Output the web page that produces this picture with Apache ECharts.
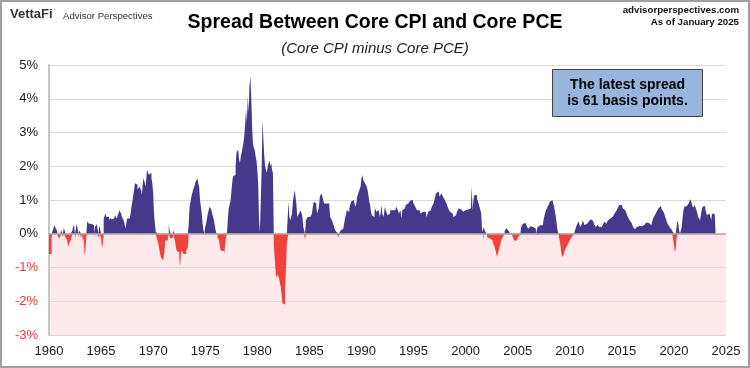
<!DOCTYPE html>
<html><head><meta charset="utf-8">
<script src="https://cdn.jsdelivr.net/npm/echarts@6/dist/echarts.min.js"></script>
<style>html,body{margin:0;padding:0;background:#fff}#c{width:750px;height:368px}</style>
</head><body><div id="c"></div><script>
// Monthly spread (Core CPI YoY minus Core PCE YoY), percentage points, starting Jan 1960
const startYear = 1960;
const spread1960s = [
  -0.6,-0.63,-0.6,-0.1,0.05,0.15,0.26,0.2,0.15,0.1,-0.08,-0.1,
  -0.14,-0.1,0.1,0.15,-0.08,0.16,0.1,-0.1,-0.12,-0.2,-0.39,-0.3,
  -0.35,-0.2,-0.24,0.1,0.26,0.2,-0.18,0.05,0.3,0.25,-0.14,0.1,
  0.12,-0.1,0.05,-0.24,-0.1,-0.63,-0.5,-0.05,0.36,0.34,0.3,0.25,
  0.3,0.28,0.3,0.25,-0.09,0.2,0.25,0.28,0.26,-0.14,0.25,0.2,
  -0.1,-0.44,-0.3,0.45,0.5,0.6,0.5,0.45,0.5,0.55,0.4,0.48,
  0.42,0.4,0.45,0.5,0.55,0.5,0.45,0.5,0.6,0.7,0.75,0.6,
  0.5,0.45,0.4,0.3,0.15,0.3,0.45,0.5,0.45,0.5,0.6,0.8,
  0.95,1.0,1.3,1.5,1.5,1.45,1.3,1.3,1.4,1.45,1.3,1.15,
  1.5,1.65,1.55,1.4,1.6,1.9,1.85,1.75,1.8,1.8,1.65,1.5
];
const spread1970s = [
  1.2,0.6,0.3,0.05,-0.1,-0.2,-0.3,-0.45,-0.6,-0.7,-0.72,-0.78,
  -0.7,-0.5,-0.2,-0.15,-0.2,-0.1,0.3,0.1,-0.15,-0.2,-0.1,0.1,
  0.05,-0.2,-0.35,-0.5,-0.45,-0.55,-0.7,-0.98,-0.6,-0.5,-0.55,-0.6,
  -0.55,-0.6,-0.5,-0.55,-0.4,0.3,0.8,0.95,1.1,1.15,1.3,1.35,
  1.45,1.55,1.6,1.64,1.5,1.4,1.0,0.8,0.6,0.3,0.1,-0.05,
  0.2,0.3,0.45,0.6,0.7,0.8,0.78,0.72,0.6,0.55,0.4,0.25,
  0.1,-0.02,-0.1,-0.15,-0.2,-0.4,-0.5,-0.45,-0.5,-0.55,-0.58,-0.3,
  -0.1,0.0,0.4,0.75,0.85,0.95,1.2,1.5,1.7,1.65,1.75,2.0,
  2.4,2.45,2.5,2.2,2.1,2.3,2.4,2.55,2.7,2.9,3.25,3.7,
  3.3,4.07,3.6,4.4,4.65,4.07,3.17,2.67,2.55,2.48,2.3,2.18
];
const spread1980s = [
  1.9,1.49,0.4,0.05,0.1,1.9,3.37,2.8,2.3,2.0,1.9,1.8,
  2.0,2.1,2.18,2.0,2.1,1.9,1.79,-0.3,-0.7,-1.08,-1.32,-1.2,
  -1.17,-1.3,-1.45,-1.57,-1.8,-2.06,-2.1,-2.1,-1.6,-1.08,-0.3,-0.1,
  0.95,0.5,0.4,0.45,0.6,0.95,1.0,1.3,1.35,0.9,0.5,0.5,
  0.6,0.6,0.7,0.6,0.5,0.2,0.2,-0.19,0.4,0.45,0.5,0.55,
  0.5,0.45,0.55,0.6,0.8,0.95,1.0,0.9,0.8,0.6,0.7,0.8,
  1.1,1.15,1.2,1.15,1.0,0.9,0.85,0.9,0.85,0.95,0.9,0.8,
  0.5,0.45,0.4,0.35,0.25,0.15,0.1,0.05,-0.05,-0.1,-0.08,0.0,
  0.1,0.1,0.15,0.2,0.3,0.45,0.55,0.7,0.7,0.65,0.75,0.85,
  0.95,1.0,1.0,0.95,1.0,0.8,0.9,1.1,1.05,1.25,1.25,1.4
];
const spread1990s = [
  1.65,1.74,1.6,1.55,1.5,1.45,1.4,1.3,1.15,0.95,0.85,0.65,
  0.55,0.5,0.5,0.65,0.75,0.65,0.6,0.7,0.65,0.5,0.6,0.85,
  0.6,0.5,0.6,0.8,0.7,0.65,0.55,0.5,0.6,0.7,0.7,0.7,
  0.7,0.75,0.7,0.75,0.8,0.75,0.7,0.6,0.55,0.7,0.45,0.7,
  0.7,0.75,0.8,0.85,0.9,0.9,0.92,0.95,0.98,1.0,1.0,0.95,
  0.9,0.85,0.8,0.75,0.7,0.75,0.7,0.65,0.6,0.6,0.65,0.6,
  0.6,0.65,0.6,0.5,0.55,0.65,0.7,0.7,0.75,0.8,0.85,0.9,
  1.0,1.1,1.2,1.25,1.25,1.2,1.1,1.15,1.2,1.15,1.1,1.05,
  1.0,0.95,0.9,0.85,0.75,0.7,0.65,0.62,0.6,0.55,0.5,0.53,
  0.55,0.6,0.65,0.7,0.75,0.7,0.72,0.7,0.68,0.65,0.7,0.7
];
const spread2000s = [
  0.7,0.7,0.72,0.7,0.72,0.75,0.78,1.41,0.7,1.0,1.15,1.2,
  1.15,1.05,1.0,0.9,0.8,0.7,0.6,0.05,-0.19,0.2,0.1,0.05,
  -0.05,-0.1,-0.12,-0.14,-0.15,-0.18,-0.19,-0.25,-0.29,-0.35,-0.45,-0.55,
  -0.68,-0.6,-0.5,-0.4,-0.3,-0.2,-0.15,-0.08,-0.02,0.08,0.12,0.16,
  0.14,0.1,0.05,0.02,0.0,-0.02,-0.05,-0.14,-0.2,-0.24,-0.2,-0.15,
  -0.12,-0.08,-0.05,0.05,0.2,0.25,0.3,0.3,0.32,0.33,0.25,0.2,
  0.15,0.2,0.22,0.2,0.2,0.2,0.22,0.2,0.15,0.0,-0.04,0.2,
  0.22,0.25,0.22,0.25,0.25,0.3,0.45,0.55,0.65,0.72,0.78,0.82,
  0.88,0.95,0.97,1.0,1.02,0.95,0.8,0.65,0.5,0.3,0.08,0.0,
  -0.15,-0.3,-0.5,-0.68,-0.73,-0.62,-0.52,-0.47,-0.4,-0.36,-0.3,-0.25
];
const spread2010s = [
  -0.19,-0.15,-0.11,-0.07,-0.03,0.05,0.1,0.18,0.26,0.3,0.36,0.3,
  0.2,0.25,0.3,0.4,0.35,0.26,0.28,0.3,0.34,0.36,0.38,0.4,
  0.43,0.42,0.38,0.34,0.28,0.24,0.2,0.22,0.26,0.24,0.2,0.2,
  0.2,0.22,0.26,0.3,0.36,0.33,0.3,0.35,0.4,0.42,0.45,0.48,
  0.5,0.52,0.55,0.58,0.6,0.65,0.7,0.75,0.8,0.85,0.9,0.85,
  0.8,0.75,0.72,0.7,0.68,0.62,0.58,0.5,0.45,0.4,0.36,0.33,
  0.3,0.2,0.16,0.13,0.15,0.19,0.22,0.23,0.21,0.2,0.22,0.23,
  0.25,0.26,0.28,0.3,0.33,0.36,0.32,0.29,0.27,0.26,0.28,0.36,
  0.45,0.5,0.55,0.6,0.65,0.7,0.75,0.8,0.82,0.78,0.72,0.68,
  0.65,0.58,0.5,0.42,0.34,0.28,0.25,0.2,0.18,0.13,0.09,0.04
];
const spread2020s = [
  -0.3,-0.55,-0.45,-0.15,0.4,0.3,0.1,-0.05,-0.05,0.2,0.5,0.7,
  0.8,0.85,0.82,0.8,0.85,0.9,0.96,1.02,0.95,0.85,0.78,0.8,
  0.85,0.8,0.7,0.6,0.5,0.45,0.4,0.55,0.7,0.8,0.85,0.82,
  0.75,0.7,0.55,0.55,0.6,0.65,0.65,0.4,0.6,0.6,0.58,0.6,
  0.61
];
const xTickYears = [1960,1965,1970,1975,1980,1985,1990,1995,2000,2005,2010,2015,2020,2025];
const yTicks = [-3,-2,-1,0,1,2,3,4,5];
const titleText = 'Spread Between Core CPI and Core PCE';
const subtitleText = '(Core CPI minus Core PCE)';
const noteLines = ['The latest spread', 'is 61 basis points.'];

const spread = [].concat(spread1960s, spread1970s, spread1980s, spread1990s, spread2000s, spread2010s, spread2020s);
const posData = spread.map((v, i) => [startYear + i / 12, v > 0 ? v : 0]);
const negData = spread.map((v, i) => [startYear + i / 12, v < 0 ? v : 0]);

const PURPLE = '#46398B';
const RED = '#F1413A';
const PINK = '#FDE9E9';
const FONT = '"Liberation Sans", Arial, sans-serif';

const chart = echarts.init(document.getElementById('c'), null, {renderer: 'canvas'});
const bandColors = yTicks.slice(0, -1).map(t => t < 0 ? PINK : 'rgba(0,0,0,0)');

chart.setOption({
  animation: false,
  backgroundColor: '#ffffff',
  textStyle: {fontFamily: FONT},
  title: [
    {text: titleText, left: 'center', top: 8, textStyle: {fontFamily: FONT, fontSize: 19.5, fontWeight: 'bold', color: '#000'}},
    {text: subtitleText, left: 'center', top: 36, textStyle: {fontFamily: FONT, fontSize: 15, fontStyle: 'italic', fontWeight: 'normal', color: '#222'}}
  ],
  grid: {left: 49, right: 24, top: 65, bottom: 33, containLabel: false},
  xAxis: {
    type: 'value', min: xTickYears[0], max: xTickYears[xTickYears.length - 1], interval: 5,
    axisLine: {show: false}, axisTick: {show: false}, splitLine: {show: false},
    axisLabel: {fontFamily: FONT, fontSize: 13, color: '#1a1a1a', margin: 10, formatter: v => String(v), showMinLabel: true, showMaxLabel: true}
  },
  yAxis: {
    type: 'value', min: yTicks[0], max: yTicks[yTicks.length - 1], interval: 1,
    axisLine: {show: true, onZero: false, lineStyle: {color: '#C6C6C6', width: 2}},
    axisTick: {show: false},
    splitLine: {show: true, lineStyle: {color: '#DADADA', width: 1.2}},
    splitArea: {show: true, areaStyle: {color: bandColors}},
    axisLabel: {fontFamily: FONT, fontSize: 13, margin: 11, formatter: '{value}%',
      color: v => Number(v) < 0 ? '#FF3333' : '#1a1a1a'}
  },
  series: [
    {
      type: 'line', name: 'pos', data: posData, step: 'end', showSymbol: false, symbol: 'none',
      lineStyle: {width: 0, color: PURPLE}, areaStyle: {color: PURPLE, opacity: 1, origin: 0},
      itemStyle: {color: PURPLE}, silent: true, z: 3,
      markLine: {silent: true, symbol: 'none', label: {show: false}, animation: false,
        lineStyle: {color: '#A8A8A8', width: 1.5, type: 'solid'}, data: [{yAxis: 0}]}
    },
    {
      type: 'line', name: 'neg', data: negData, step: 'end', showSymbol: false, symbol: 'none',
      lineStyle: {width: 0, color: RED}, areaStyle: {color: RED, opacity: 1, origin: 0},
      itemStyle: {color: RED}, silent: true, z: 3
    }
  ],
  graphic: [
    {type: 'rect', silent: true, z: 100, shape: {x: 1, y: 1, width: 748, height: 366},
      style: {fill: 'none', stroke: '#A0A0A0', lineWidth: 2}},
    {type: 'text', left: 10, top: 8, z: 100, style: {text: 'VettaFi', font: 'bold 13px ' + FONT, fill: '#333'}},
    {type: 'text', left: 63, top: 11, z: 100, style: {text: 'Advisor Perspectives', font: '9.6px ' + FONT, fill: '#333'}},
    {type: 'text', right: 11, top: 5, z: 100, style: {text: 'advisorperspectives.com', font: 'bold 9.7px ' + FONT, fill: '#111', align: 'right'}},
    {type: 'text', right: 11, top: 17, z: 100, style: {text: 'As of January 2025', font: 'bold 9.7px ' + FONT, fill: '#111', align: 'right'}},
    {type: 'rect', z: 100, silent: true, shape: {x: 552.5, y: 69.5, width: 150, height: 47},
      style: {fill: '#98B5DD', stroke: '#444', lineWidth: 1}},
    {type: 'text', z: 101, silent: true, x: 627.5, y: 78, style: {text: noteLines[0], font: 'bold 14px ' + FONT, fill: '#000', align: 'center'}},
    {type: 'text', z: 101, silent: true, x: 627.5, y: 94, style: {text: noteLines[1], font: 'bold 14px ' + FONT, fill: '#000', align: 'center'}}
  ]
});
</script></body></html>
